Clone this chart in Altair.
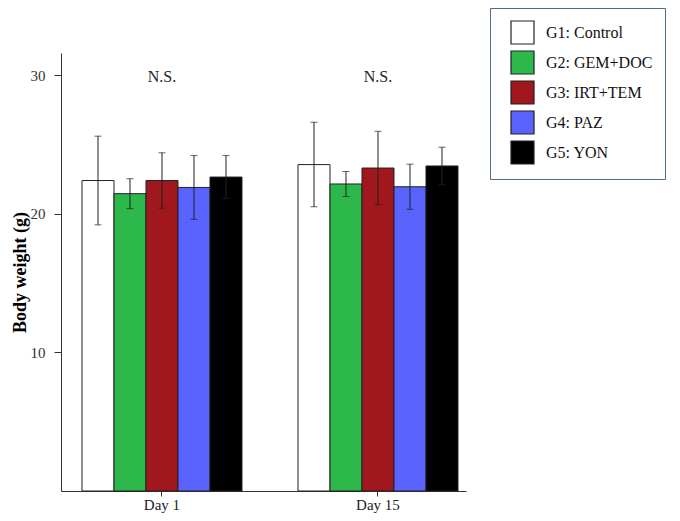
import altair as alt
import pandas as pd

days = ["Day 1", "Day 15"]
groups = ["G1: Control", "G2: GEM+DOC", "G3: IRT+TEM", "G4: PAZ", "G5: YON"]
colors = ["#ffffff", "#2db84b", "#a0171d", "#5a63fd", "#000000"]

day1_mean = [22.4, 21.45, 22.4, 21.9, 22.65]
day1_sd = [3.2, 1.08, 2.0, 2.3, 1.55]
day15_mean = [23.55, 22.15, 23.3, 21.95, 23.45]
day15_sd = [3.05, 0.9, 2.65, 1.63, 1.35]

ns_labels = ["N.S.", "N.S."]
y_ticks = [10, 20, 30]

rows = []
for d, means, sds in zip(days, [day1_mean, day15_mean], [day1_sd, day15_sd]):
    for g, m, s in zip(groups, means, sds):
        rows.append({"day": d, "group": g, "mean": m, "lo": m - s, "hi": m + s})
df = pd.DataFrame(rows)
ns_df = pd.DataFrame({"day": days, "label": ns_labels})

FONT = "Liberation Serif"

x_enc = alt.X(
    "day:N",
    sort=days,
    scale=alt.Scale(paddingInner=0.2593, paddingOuter=0.0671, align=0.724),
    axis=alt.Axis(
        title=None, labelAngle=0, labelFont=FONT, labelFontSize=15,
        labelColor="#222", tickSize=5, labelPadding=1,
        domainColor="#333", tickColor="#333", grid=False,
    ),
)
xo_enc = alt.XOffset("group:N", sort=groups,
                     scale=alt.Scale(paddingInner=0, paddingOuter=0))
y_scale = alt.Scale(domain=[0, 31.6], nice=False, zero=True)

bars = alt.Chart(df).mark_bar(stroke="#222", strokeWidth=1).encode(
    x=x_enc,
    xOffset=xo_enc,
    y=alt.Y(
        "mean:Q",
        scale=y_scale,
        axis=alt.Axis(
            values=y_ticks, title="Body weight (g)", titleFont=FONT,
            titleFontSize=18, titleFontWeight="bold", titleColor="black",
            titlePadding=1, labelFont=FONT, labelFontSize=15,
            labelColor="#333", tickSize=7, labelPadding=9,
            domainColor="#333", tickColor="#333", grid=False,
        ),
    ),
    color=alt.Color(
        "group:N",
        sort=groups,
        scale=alt.Scale(domain=groups, range=colors),
        legend=alt.Legend(
            title=None, orient="none", legendX=429, legendY=-45,
            symbolType="square", symbolSize=529, symbolStrokeColor="#222",
            symbolStrokeWidth=1.2, symbolOpacity=1, symbolOffset=8,
            labelFont=FONT, labelFontSize=16, labelColor="#111",
            labelOffset=11, rowPadding=1, padding=12,
            strokeColor="#4f6a8a", fillColor="white", labelLimit=300,
        ),
    ),
)

err = alt.Chart(df).mark_rule(color="#222", strokeWidth=1).encode(
    x=alt.X("day:N", sort=days),
    xOffset=alt.XOffset("group:N", sort=groups),
    y=alt.Y("lo:Q"),
    y2="hi:Q",
)

cap_hi = alt.Chart(df).mark_tick(orient="horizontal", size=7, thickness=1,
                                 color="#222").encode(
    x=alt.X("day:N", sort=days),
    xOffset=alt.XOffset("group:N", sort=groups),
    y=alt.Y("hi:Q"),
)
cap_lo = alt.Chart(df).mark_tick(orient="horizontal", size=7, thickness=1,
                                 color="#222").encode(
    x=alt.X("day:N", sort=days),
    xOffset=alt.XOffset("group:N", sort=groups),
    y=alt.Y("lo:Q"),
)

ns = alt.Chart(ns_df).mark_text(font=FONT, fontSize=16, color="#222",
                                baseline="middle").encode(
    x=alt.X("day:N", sort=days),
    y=alt.datum(29.9),
    text="label:N",
)

chart = alt.layer(bars, err, cap_hi, cap_lo, ns).properties(
    width=405, height=438,
    autosize=alt.AutoSizeParams(type="none"),
    padding={"left": 53, "top": 45, "right": 206, "bottom": 22},
).configure_view(stroke=None)

chart.save("out.html", embed_options={"renderer": "svg", "actions": False})
